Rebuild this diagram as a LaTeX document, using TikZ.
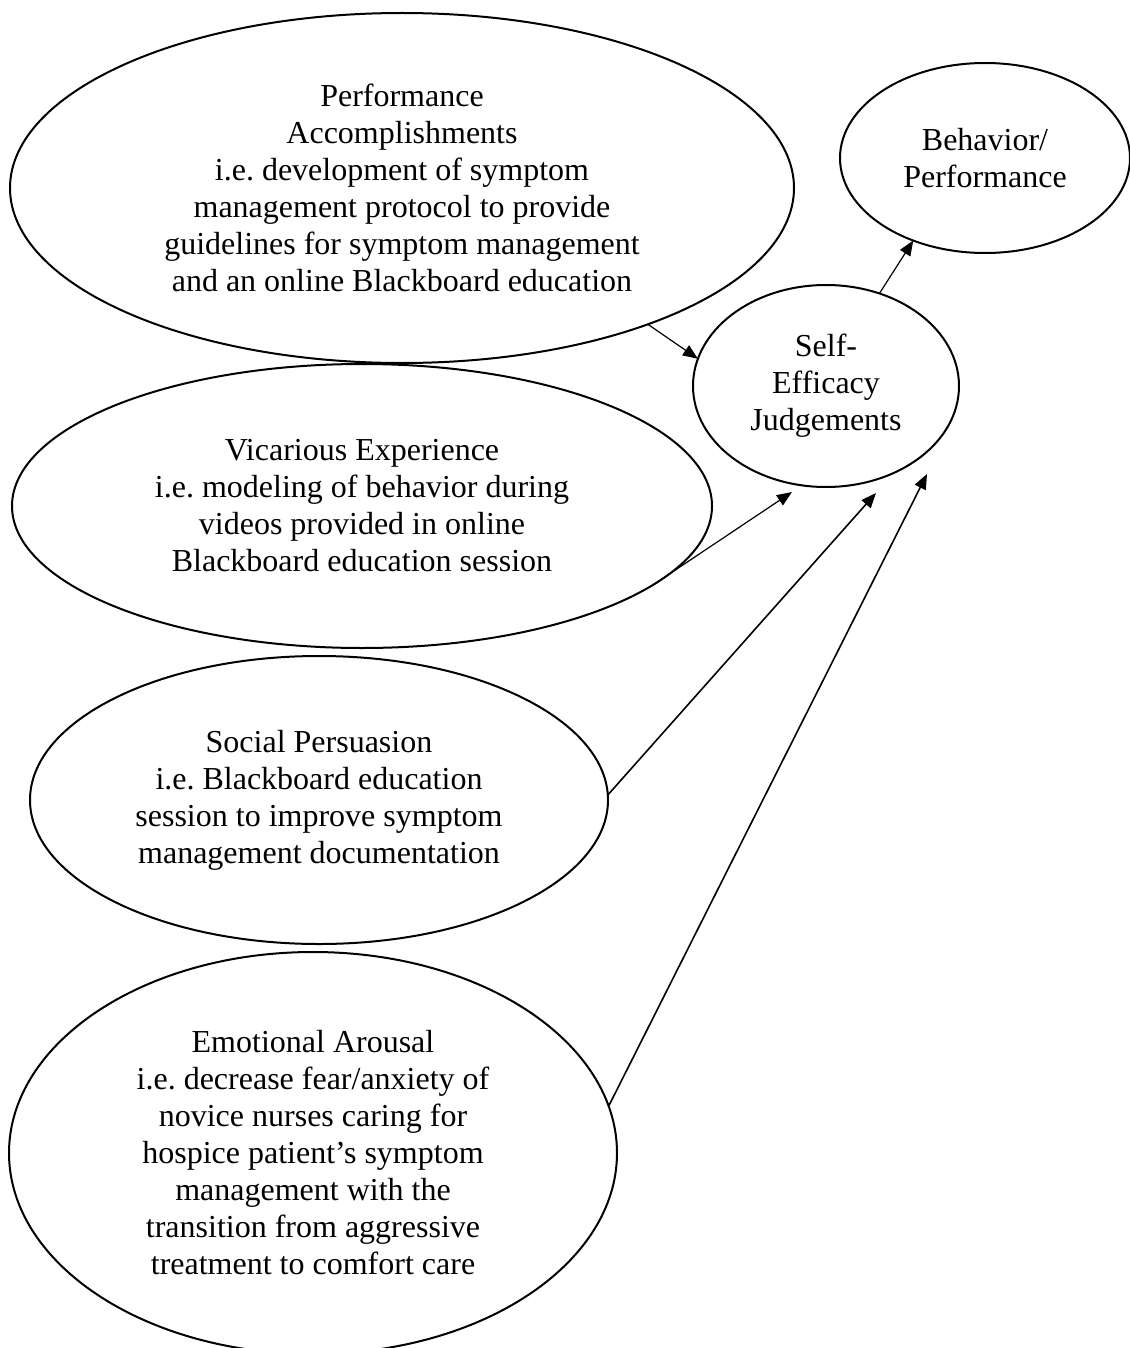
\documentclass[tikz,border=0pt]{standalone}
\usepackage{fontspec}
\setmainfont{Liberation Serif}
\usetikzlibrary{shapes.geometric,arrows.meta}
\frenchspacing
\begin{document}
\begin{tikzpicture}[x=1pt,y=-1pt,
  bub/.style={ellipse, draw, line width=2pt, inner sep=0pt, outer sep=0pt,
    align=center, font=\fontsize{32}{37}\selectfont\frenchspacing},
  arr/.style={-{Triangle[length=15pt,width=12pt]}, line width=1.2pt},
  arrthick/.style={arr, line width=1.6pt}]
\useasboundingbox[fill=white] (0,0) rectangle (1129,1348);

\node[bub, minimum width=784pt, minimum height=350pt] (perf) at (402,188)
  {Performance\\Accomplishments\\i.e. development of symptom\\management protocol to provide\\guidelines for symptom management\\and an online Blackboard education};
\node[bub, minimum width=700pt, minimum height=284pt] (vic) at (362,506)
  {Vicarious Experience\\i.e. modeling of behavior during\\videos provided in online\\Blackboard education session};
\node[bub, minimum width=578pt, minimum height=288pt] (soc) at (319,800)
  {Social Persuasion\\i.e. Blackboard education\\session to improve symptom\\management documentation};
\node[bub, minimum width=608pt, minimum height=402pt] (emo) at (313,1153)
  {Emotional Arousal\\i.e. decrease fear/anxiety of\\novice nurses caring for\\hospice patient’s symptom\\management with the\\transition from aggressive\\treatment to comfort care};
\node[bub, minimum width=266pt, minimum height=202pt] (self) at (826,386)
  {Self-\\Efficacy\\Judgements};
\node[bub, minimum width=290pt, minimum height=190pt] (beh) at (985,158)
  {Behavior/\\Performance};

\coordinate (t2) at (792,492);
\coordinate (t3) at (876,493);
\coordinate (t4) at (927,474);

\draw[arr] (perf.-29.4) -- (self.168);
\draw[arr] (vic.-15.9) -- (t2);
\draw[arrthick] (soc.1.4) -- (t3);
\draw[arrthick] (emo.9.1) -- (t4);
\draw[arr] (self.60.7) -- (beh.229.7);
\end{tikzpicture}
\end{document}
